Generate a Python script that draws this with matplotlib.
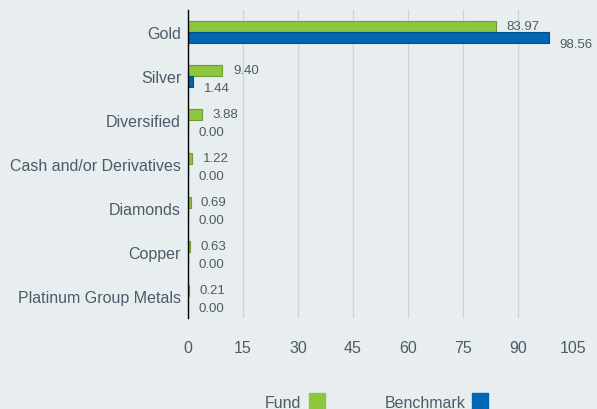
import matplotlib.pyplot as plt
from matplotlib.patches import Patch
import numpy as np

categories = ['Gold', 'Silver', 'Diversified', 'Cash and/or Derivatives',
              'Diamonds', 'Copper', 'Platinum Group Metals']
fund = [83.97, 9.40, 3.88, 1.22, 0.69, 0.63, 0.21]
benchmark = [98.56, 1.44, 0.00, 0.00, 0.00, 0.00, 0.00]
xticks = [0, 15, 30, 45, 60, 75, 90, 105]

plt.rcParams['font.family'] = ['Liberation Sans', 'DejaVu Sans']

bg = '#e8edf0'
txt = '#4d5b68'
green = '#8dc63f'
blue = '#0066b3'

fig = plt.figure(figsize=(5.97, 4.10), dpi=100, facecolor=bg)
ax = fig.add_axes([188/597, 1 - 319/410, 385/597, 308/410], facecolor=bg)

y = np.arange(len(categories))
h = 0.25
ax.barh(y - h/2, fund, height=h, color=green, edgecolor='#6f9e2e', linewidth=0.8)
ax.barh(y + h/2, benchmark, height=h, color=blue, edgecolor='#004f8c', linewidth=0.8)

for i in range(len(categories)):
    ax.annotate('%.2f' % fund[i], (fund[i], y[i] - h/2), xytext=(7.5, 0.5),
                textcoords='offset points', va='center', ha='left',
                fontsize=9.5, color=txt)
    ax.annotate('%.2f' % benchmark[i], (benchmark[i], y[i] + h/2), xytext=(7.5, -4.5),
                textcoords='offset points', va='center', ha='left',
                fontsize=9.5, color=txt)

ax.set_xlim(0, 105)
ax.set_ylim(len(categories) - 0.5, -0.5)
ax.set_xticks(xticks)
ax.set_yticks(y)
ax.set_yticklabels(categories)
ax.tick_params(axis='y', length=0, pad=5, labelsize=11.5, labelcolor=txt)
ax.tick_params(axis='x', length=0, pad=16, labelsize=11.5, labelcolor=txt)
ax.grid(axis='x', color='#cdd2d6', linewidth=0.9)
ax.set_axisbelow(True)
for s in ['top', 'right', 'bottom']:
    ax.spines[s].set_visible(False)
ax.spines['left'].set_color('black')
ax.spines['left'].set_linewidth(1)
ax.spines['left'].set_zorder(5)

handles = [Patch(facecolor=green, edgecolor=green), Patch(facecolor=blue, edgecolor=blue)]
fig.legend(handles, ['Fund', 'Benchmark'], loc='lower center', bbox_to_anchor=(0.631, -0.04),
           ncol=2, frameon=False, markerfirst=False, handlelength=1.0, handleheight=1.4,
           handletextpad=0.45, columnspacing=3.75, fontsize=11.5, labelcolor=txt)

fig.savefig('out.png', dpi=100, facecolor=bg)
